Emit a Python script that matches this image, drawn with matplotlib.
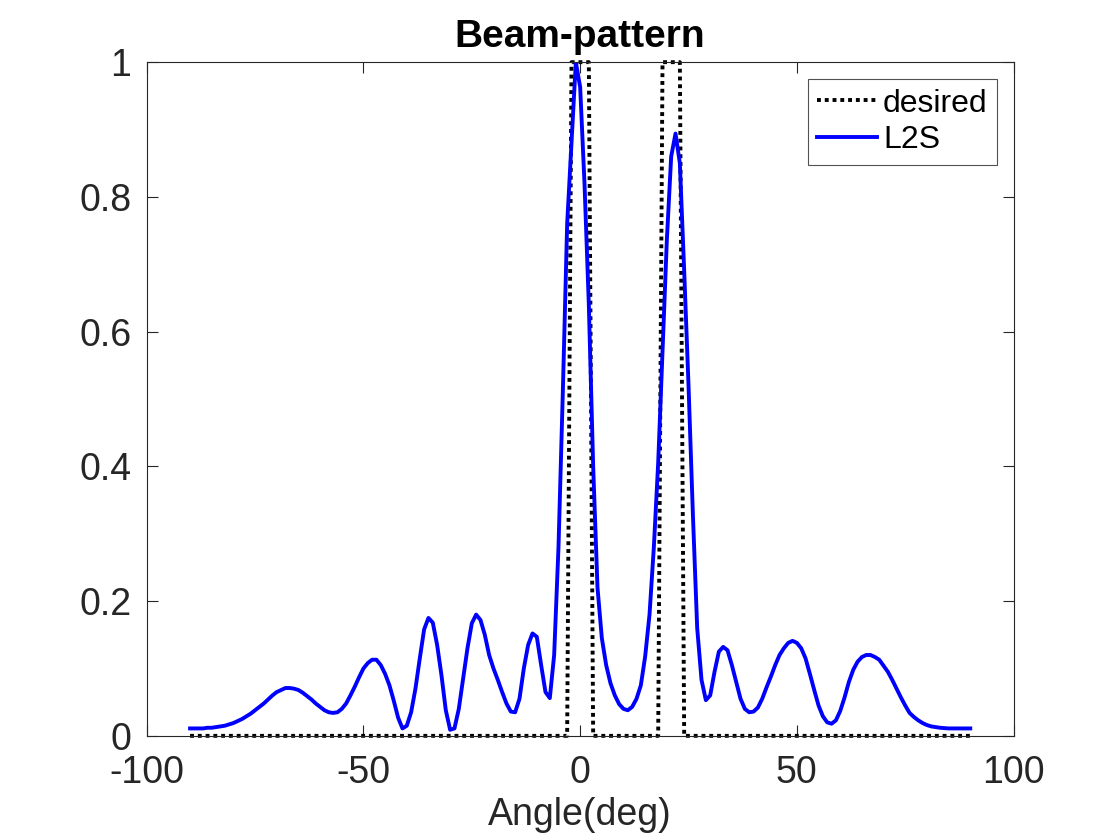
import numpy as np
import matplotlib
matplotlib.use("Agg")
import matplotlib.pyplot as plt

plt.rcParams['font.family'] = ['Liberation Sans', 'DejaVu Sans']
plt.rcParams['axes.unicode_minus'] = False

# angle grid, 1 deg steps
angles = np.arange(-90, 91)

# desired beam-pattern: two passbands
desired = [0] * 88 + [1] * 5 + [0] * 16 + [1] * 5 + [0] * 67

# L2S result
l2s = [
    0.011, 0.011, 0.011, 0.011, 0.012, 0.012, 0.013, 0.014, 0.015, 0.017,   # -90..-81
    0.019, 0.022, 0.025, 0.029, 0.033, 0.038, 0.043, 0.048, 0.054, 0.060,   # -80..-71
    0.065, 0.068, 0.071, 0.071, 0.070, 0.068, 0.064, 0.059, 0.054, 0.048,   # -70..-61
    0.043, 0.038, 0.035, 0.034, 0.035, 0.040, 0.048, 0.060, 0.073, 0.087,   # -60..-51
    0.100, 0.108, 0.113, 0.113, 0.105, 0.092, 0.075, 0.052, 0.027, 0.011,   # -50..-41
    0.015, 0.035, 0.070, 0.115, 0.158, 0.175, 0.168, 0.135, 0.090, 0.038,   # -40..-31
    0.009, 0.011, 0.040, 0.085, 0.130, 0.167, 0.180, 0.172, 0.150, 0.120,   # -30..-21
    0.100, 0.083, 0.065, 0.048, 0.036, 0.035, 0.055, 0.100, 0.135, 0.152,   # -20..-11
    0.147, 0.105, 0.065, 0.056, 0.120, 0.280, 0.510, 0.760, 0.880, 1.000,   # -10..-1
    0.963, 0.820, 0.640, 0.400, 0.220, 0.145, 0.105, 0.078, 0.060, 0.047,   # 0..9
    0.040, 0.038, 0.043, 0.055, 0.075, 0.118, 0.180, 0.280, 0.405, 0.570,   # 10..19
    0.736, 0.860, 0.894, 0.850, 0.690, 0.520, 0.330, 0.160, 0.083, 0.053,   # 20..29
    0.060, 0.095, 0.125, 0.132, 0.127, 0.105, 0.080, 0.055, 0.040, 0.035,   # 30..39
    0.036, 0.042, 0.055, 0.072, 0.088, 0.105, 0.120, 0.130, 0.138, 0.141,   # 40..49
    0.138, 0.130, 0.115, 0.092, 0.068, 0.045, 0.029, 0.020, 0.018, 0.023,   # 50..59
    0.037, 0.057, 0.080, 0.098, 0.110, 0.117, 0.120, 0.120, 0.117, 0.113,   # 60..69
    0.104, 0.095, 0.083, 0.070, 0.057, 0.045, 0.034, 0.028, 0.023, 0.019,   # 70..79
    0.016, 0.014, 0.013, 0.012, 0.0115, 0.011, 0.011, 0.011, 0.011, 0.011,  # 80..89
    0.011,                                                                  # 90
]

xticks = [-100, -50, 0, 50, 100]
yticks = [0, 0.2, 0.4, 0.6, 0.8, 1]
yticklabels = ['0', '0.2', '0.4', '0.6', '0.8', '1']

fig = plt.figure(figsize=(11.2, 8.4), dpi=100)
ax = fig.add_axes([0.131, 0.124, 0.774, 0.802])

ax.plot(angles, desired, color='black', linewidth=2.8,
        linestyle=(0, (1.0, 1.0)), label='desired', clip_on=False)
ax.plot(angles, l2s, color='#0000ff', linewidth=2.8, label='L2S',
        solid_joinstyle='round')

ax.set_xlim(-100, 100)
ax.set_ylim(0, 1)
ax.set_xticks(xticks)
ax.set_yticks(yticks)
ax.set_yticklabels(yticklabels)

gray = '#262626'
ax.tick_params(direction='in', length=8, width=0.8, top=True, right=True,
               labelsize=27, colors=gray)
ax.tick_params(axis='y', pad=11)
ax.tick_params(axis='x', pad=14)
for s in ax.spines.values():
    s.set_color(gray)
    s.set_linewidth(0.8)

ax.set_xlabel('Angle(deg)', fontsize=27, color=gray, labelpad=4)
ax.set_title('Beam-pattern', fontsize=28, fontweight='bold', pad=11)

leg = ax.legend(loc='upper right', fontsize=23, frameon=True, fancybox=False,
                edgecolor=gray, handlelength=1.85, handletextpad=0.2,
                borderpad=0.3, labelspacing=0.2, borderaxespad=0,
                bbox_to_anchor=(0.981, 0.975))
leg.get_frame().set_linewidth(0.8)

fig.savefig('out.png', dpi=100)
